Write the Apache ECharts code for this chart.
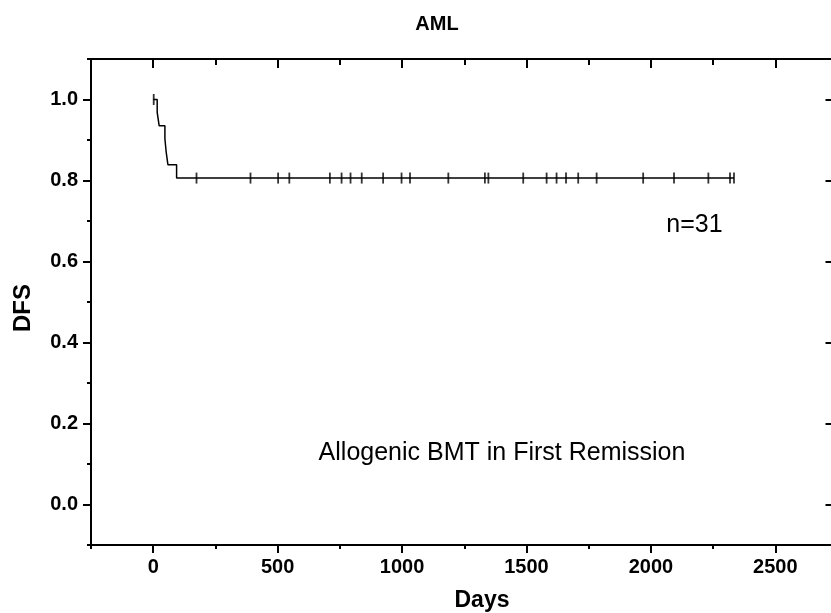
<!DOCTYPE html>
<html>
<head>
<meta charset="utf-8">
<script src="https://cdn.jsdelivr.net/npm/echarts@6/dist/echarts.min.js"></script>
<style>
html,body{margin:0;padding:0;background:#fff;}
#c{width:831px;height:613px;}
</style>
</head>
<body>
<div id="c"></div>
<script>
// Kaplan-Meier step points (days, DFS)
var eventDays = [0, 16, 24, 47, 52, 59, 94, 2334];
var eventSurv = [1.0, 0.968, 0.935, 0.903, 0.871, 0.839, 0.806, 0.806];
// Censored observations (days)
var censorDays = [2, 174, 391, 502, 547, 710, 757, 793, 838, 924, 998, 1032, 1186, 1333, 1347, 1487, 1581, 1621, 1659, 1708, 1782, 1969, 2093, 2231, 2318, 2334];
// Tick values
var xMajorTicks = [0, 500, 1000, 1500, 2000, 2500];
var xMinorTicks = [-250, 250, 750, 1250, 1750, 2250, 2750];
var yMajorTicks = [0.0, 0.2, 0.4, 0.6, 0.8, 1.0];
var yMinorTicks = [-0.1, 0.1, 0.3, 0.5, 0.7, 0.9, 1.1];

var FONT = '"Liberation Sans", Arial, Helvetica, sans-serif';

function survAt(t) {
  var s = eventSurv[0];
  for (var i = 0; i < eventDays.length; i++) {
    if (eventDays[i] <= t) s = eventSurv[i];
  }
  return s;
}

var lineData = eventDays.map(function (d, i) { return [d, eventSurv[i]]; });
var censorData = censorDays.map(function (d) { return [d, survAt(d)]; });

function xAx(pos, ticks, len, inside, showLine, showLabel) {
  return {
    type: 'value', position: pos, min: -250, max: 2750,
    axisLine: { show: showLine, onZero: false, lineStyle: { color: '#000', width: 2 } },
    axisTick: { show: true, inside: inside, length: len, customValues: ticks, lineStyle: { color: '#000', width: 2 } },
    axisLabel: { show: showLabel, customValues: ticks, margin: 12, color: '#000', fontFamily: FONT, fontWeight: 'bold', fontSize: 20,
      formatter: function (v) { return String(v); } },
    splitLine: { show: false }
  };
}
function yAx(pos, ticks, len, inside, showLine, showLabel) {
  return {
    type: 'value', position: pos, min: -0.1, max: 1.1,
    axisLine: { show: showLine, onZero: false, lineStyle: { color: '#000', width: 2 } },
    axisTick: { show: true, inside: inside, length: len, customValues: ticks, lineStyle: { color: '#000', width: 2 } },
    axisLabel: { show: showLabel, customValues: ticks, margin: 13, color: '#000', fontFamily: FONT, fontWeight: 'bold', fontSize: 20,
      formatter: function (v) { return Number(v).toFixed(1); } },
    splitLine: { show: false }
  };
}

var chart = echarts.init(document.getElementById('c'), null, { renderer: 'canvas' });
chart.setOption({
  animation: false,
  backgroundColor: '#fff',
  grid: { left: 91, top: 59, right: -6.5, bottom: 68, containLabel: false, outerBoundsMode: 'none' },
  xAxis: [
    xAx('bottom', xMajorTicks, 8, false, true, true),
    xAx('bottom', xMinorTicks, 4, false, false, false),
    xAx('top', xMajorTicks, 9, true, true, false),
    xAx('top', xMinorTicks, 6, true, false, false)
  ],
  yAxis: [
    yAx('left', yMajorTicks, 8, false, true, true),
    yAx('left', yMinorTicks, 4, false, false, false),
    yAx('right', yMajorTicks, 12, true, true, false),
    yAx('right', yMinorTicks, 6, true, false, false)
  ],
  series: [
    {
      type: 'line', xAxisIndex: 0, yAxisIndex: 0, data: lineData, step: 'end',
      symbol: 'none', lineStyle: { color: '#000', width: 1.5 }, z: 3
    },
    {
      type: 'scatter', xAxisIndex: 0, yAxisIndex: 0, data: censorData,
      symbol: 'rect', symbolSize: [1.8, 11], itemStyle: { color: '#000' }, z: 4
    }
  ],
  graphic: [
    { type: 'text', x: 437, y: 24, style: { text: 'AML', fill: '#000', font: 'bold 20px ' + FONT, align: 'center', verticalAlign: 'middle' } },
    { type: 'text', x: 482, y: 601, style: { text: 'Days', fill: '#000', font: 'bold 23px ' + FONT, align: 'center', verticalAlign: 'middle' } },
    { type: 'text', x: 23, y: 308, rotation: Math.PI / 2, style: { text: 'DFS', fill: '#000', font: 'bold 24px ' + FONT, align: 'center', verticalAlign: 'middle' } },
    { type: 'text', x: 502, y: 453, style: { text: 'Allogenic BMT in First Remission', fill: '#000', font: '25px ' + FONT, align: 'center', verticalAlign: 'middle' } },
    { type: 'text', x: 694.5, y: 225, style: { text: 'n=31', fill: '#000', font: '25px ' + FONT, align: 'center', verticalAlign: 'middle' } }
  ]
});
</script>
</body>
</html>
